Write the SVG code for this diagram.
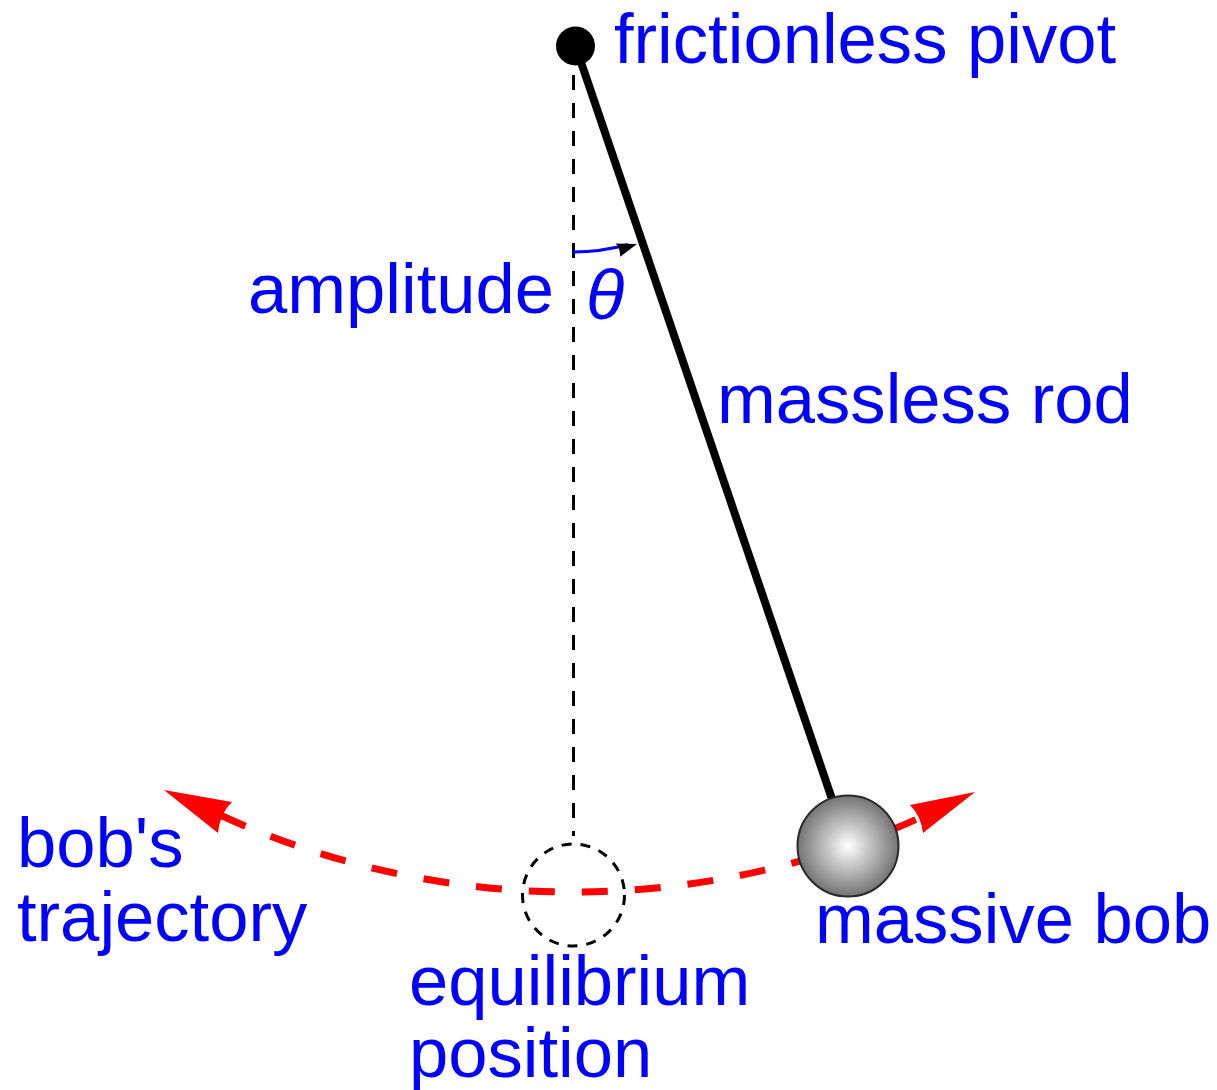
<svg xmlns="http://www.w3.org/2000/svg" width="1217" height="1090" viewBox="0 0 1217 1090">
  <defs>
    <radialGradient id="bobGrad" cx="0.5" cy="0.5" r="0.5">
      <stop offset="0" stop-color="#ffffff"/>
      <stop offset="1" stop-color="#747474"/>
    </radialGradient>
    <style>
      .lbl { font-family: "Liberation Sans", Arial, sans-serif; font-size: 70.6px; fill: #0000ff; }
      .theta { font-family: "Liberation Sans", Arial, sans-serif; font-size: 70.6px; font-style: italic; fill: #0000ff; }
      .vdash { stroke: #000; stroke-width: 3; stroke-dasharray: 15 13; fill: none; }
      .traj { stroke: #ff0000; stroke-width: 7; stroke-dasharray: 26 27; fill: none; }
      .redhead { fill: #ff0000; stroke: none; }
    </style>
  </defs>
  <rect width="1217" height="1090" fill="#ffffff"/>

  <g id="connectors">
    <line id="vertical" class="vdash" x1="573.5" y1="47" x2="573.5" y2="836"/>
    <path id="trajectory" class="traj" d="M 221.7,815.8 A 847 847 0 0 0 920.2,817.6"/>
    <path id="arrow-left" class="redhead" d="M 164,790 L 232,802 Q 220,813 218,833 Z"/>
    <path id="arrow-right" class="redhead" d="M 975,792 L 923,833 Q 921,816 910,805 Z"/>
    <path id="theta-arc" d="M 573,252 A 207 207 0 0 0 628,244.5" fill="none" stroke="#0000ff" stroke-width="3"/>
    <path id="theta-head" d="M 637,244 L 615.8,243.6 Q 620,248 620.2,256.7 Z" fill="#000"/>
  </g>

  <g id="equilibrium">
    <circle cx="573.5" cy="895" r="51" fill="none" stroke="#000" stroke-width="3" stroke-dasharray="10 9"/>
  </g>

  <g id="rod">
    <line x1="575.5" y1="46" x2="848" y2="846" stroke="#000" stroke-width="8"/>
  </g>

  <g id="pivot">
    <circle cx="575.5" cy="46" r="19.5" fill="#000"/>
  </g>

  <g id="bob">
    <circle cx="848" cy="846" r="50.5" fill="url(#bobGrad)" stroke="#2a2a2a" stroke-width="2"/>
  </g>

  <g id="labels">
    <text class="lbl" x="614" y="63">frictionless pivot</text>
    <text class="lbl" x="248" y="313">amplitude</text>
    <text class="theta" x="586" y="319">θ</text>
    <text class="lbl" x="717" y="423">massless rod</text>
    <text class="lbl" x="17" y="867">bob's</text>
    <text class="lbl" x="17" y="941">trajectory</text>
    <text class="lbl" x="815" y="943">massive bob</text>
    <text class="lbl" x="409" y="1005">equilibrium</text>
    <text class="lbl" x="409" y="1077">position</text>
  </g>
</svg>
